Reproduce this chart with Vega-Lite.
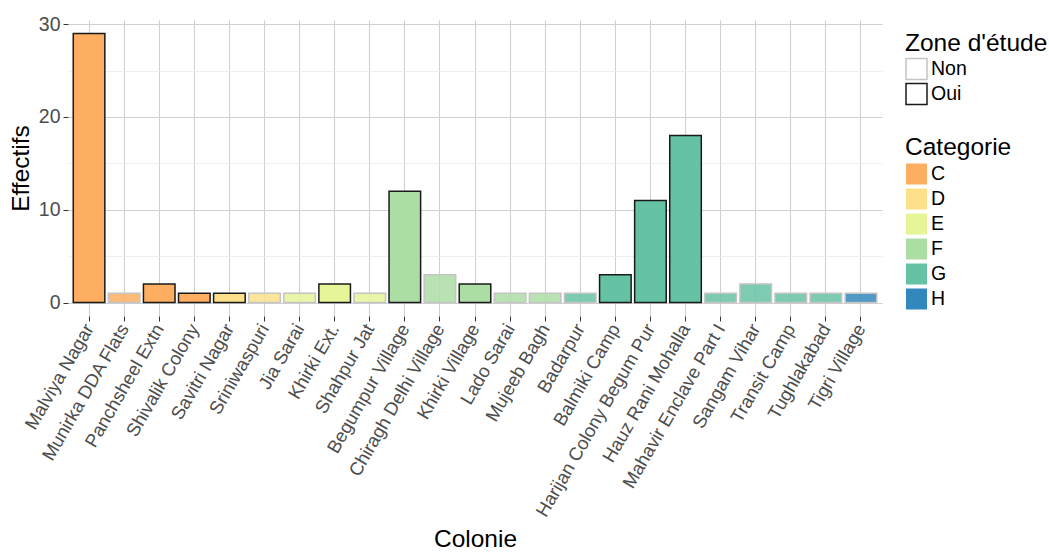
{
  "$schema": "https://vega.github.io/schema/vega-lite/v6.json",
  "width": 814,
  "height": 296,
  "autosize": {"type": "none"},
  "padding": {"left": 68, "top": 20, "right": 167, "bottom": 236},
  "background": "white",
  "config": {
    "font": "Liberation Sans",
    "view": {"stroke": null},
    "axis": {"domain": false}
  },
  "data": {
    "values": [
      {"Colonie": "Malviya Nagar", "Effectifs": 29, "Categorie": "C", "Zone": "Oui"},
      {"Colonie": "Munirka DDA Flats", "Effectifs": 1, "Categorie": "C", "Zone": "Non"},
      {"Colonie": "Panchsheel Extn", "Effectifs": 2, "Categorie": "C", "Zone": "Oui"},
      {"Colonie": "Shivalik Colony", "Effectifs": 1, "Categorie": "C", "Zone": "Oui"},
      {"Colonie": "Savitri Nagar", "Effectifs": 1, "Categorie": "D", "Zone": "Oui"},
      {"Colonie": "Sriniwaspuri", "Effectifs": 1, "Categorie": "D", "Zone": "Non"},
      {"Colonie": "Jia Sarai", "Effectifs": 1, "Categorie": "E", "Zone": "Non"},
      {"Colonie": "Khirki Ext.", "Effectifs": 2, "Categorie": "E", "Zone": "Oui"},
      {"Colonie": "Shahpur Jat", "Effectifs": 1, "Categorie": "E", "Zone": "Non"},
      {"Colonie": "Begumpur Village", "Effectifs": 12, "Categorie": "F", "Zone": "Oui"},
      {"Colonie": "Chiragh Delhi Village", "Effectifs": 3, "Categorie": "F", "Zone": "Non"},
      {"Colonie": "Khirki Village", "Effectifs": 2, "Categorie": "F", "Zone": "Oui"},
      {"Colonie": "Lado Sarai", "Effectifs": 1, "Categorie": "F", "Zone": "Non"},
      {"Colonie": "Mujeeb Bagh", "Effectifs": 1, "Categorie": "F", "Zone": "Non"},
      {"Colonie": "Badarpur", "Effectifs": 1, "Categorie": "G", "Zone": "Non"},
      {"Colonie": "Balmiki Camp", "Effectifs": 3, "Categorie": "G", "Zone": "Oui"},
      {"Colonie": "Harijan Colony Begum Pur", "Effectifs": 11, "Categorie": "G", "Zone": "Oui"},
      {"Colonie": "Hauz Rani Mohalla", "Effectifs": 18, "Categorie": "G", "Zone": "Oui"},
      {"Colonie": "Mahavir Enclave Part I", "Effectifs": 1, "Categorie": "G", "Zone": "Non"},
      {"Colonie": "Sangam Vihar", "Effectifs": 2, "Categorie": "G", "Zone": "Non"},
      {"Colonie": "Transit Camp", "Effectifs": 1, "Categorie": "G", "Zone": "Non"},
      {"Colonie": "Tughlakabad", "Effectifs": 1, "Categorie": "G", "Zone": "Non"},
      {"Colonie": "Tigri Village", "Effectifs": 1, "Categorie": "H", "Zone": "Non"}
    ]
  },
  "mark": {"type": "bar", "strokeWidth": 1.5},
  "encoding": {
    "x": {
      "field": "Colonie",
      "type": "nominal",
      "sort": null,
      "scale": {"paddingInner": 0.1, "paddingOuter": 0.15},
      "axis": {
        "title": "Colonie",
        "titleFontSize": 24.5,
        "titleFontWeight": "normal",
        "titleColor": "black",
        "titlePadding": 11,
        "bandPosition": 0.5,
        "labelAngle": -60,
        "labelAlign": "right",
        "labelBaseline": "middle",
        "labelFontSize": 18.5,
        "labelColor": "#4d4d4d",
        "labelPadding": 4,
        "labelLimit": 400,
        "tickSize": 5,
        "tickColor": "#333333",
        "grid": true,
        "gridColor": "#d0d0d0",
        "gridWidth": 1.1
      }
    },
    "y": {
      "field": "Effectifs",
      "type": "quantitative",
      "scale": {"domain": [-1.45, 30.45], "nice": false, "zero": false},
      "axis": {
        "title": "Effectifs",
        "titleFontSize": 24.5,
        "titleFontWeight": "normal",
        "titleColor": "black",
        "titlePadding": 5,
        "values": [0, 5, 10, 15, 20, 25, 30],
        "labelExpr": "datum.value % 10 === 0 ? datum.label : ''",
        "labelFontSize": 19.5,
        "labelColor": "#4d4d4d",
        "labelPadding": 3,
        "tickSize": 5,
        "tickColor": "#333333",
        "tickOpacity": {"condition": {"test": "datum.value % 10 === 0", "value": 1}, "value": 0},
        "grid": true,
        "gridColor": {"condition": {"test": "datum.value % 10 === 0", "value": "#d0d0d0"}, "value": "#ebebeb"},
        "gridWidth": {"condition": {"test": "datum.value % 10 === 0", "value": 1.1}, "value": 0.8}
      }
    },
    "fill": {
      "field": "Categorie",
      "type": "nominal",
      "scale": {
        "domain": ["C", "D", "E", "F", "G", "H"],
        "range": ["#fdae61", "#fee08b", "#e6f598", "#abdda4", "#66c2a5", "#3288bd"]
      },
      "legend": {
        "title": "Categorie",
        "orient": "none",
        "legendX": 837,
        "legendY": 116,
        "titleFontSize": 24.5,
        "titleFontWeight": "normal",
        "titleColor": "black",
        "titlePadding": 2,
        "labelFontSize": 19.5,
        "labelColor": "black",
        "labelOffset": 3,
        "symbolType": "square",
        "symbolSize": 484,
        "symbolStrokeColor": "white",
        "symbolStrokeWidth": 1,
        "symbolOpacity": 1,
        "rowPadding": -7
      }
    },
    "stroke": {
      "field": "Zone",
      "type": "nominal",
      "scale": {"domain": ["Non", "Oui"], "range": ["#c4c4c4", "#1a1a1a"]},
      "legend": {
        "title": "Zone d'étude",
        "orient": "none",
        "legendX": 837,
        "legendY": 12,
        "titleFontSize": 24.5,
        "titleFontWeight": "normal",
        "titleColor": "black",
        "titlePadding": 1,
        "labelFontSize": 19.5,
        "labelColor": "black",
        "labelOffset": 3,
        "symbolType": "square",
        "symbolSize": 441,
        "symbolFillColor": "white",
        "symbolStrokeWidth": 1.5,
        "rowPadding": -4
      }
    },
    "fillOpacity": {
      "field": "Zone",
      "type": "nominal",
      "scale": {"domain": ["Non", "Oui"], "range": [0.85, 1]},
      "legend": null
    }
  }
}
